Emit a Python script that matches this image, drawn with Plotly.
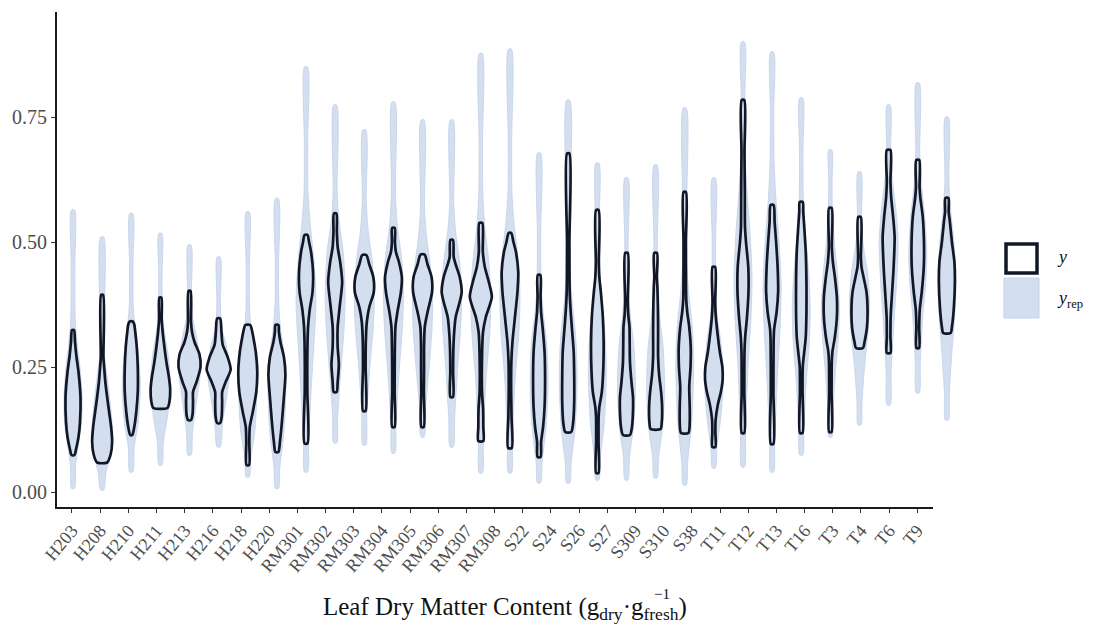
import plotly.graph_objects as go

# ---------------------------------------------------------------------------
# Data: 31 sites, each with a posterior-predictive (y_rep) density profile and
# an observed (y) density profile.  Each profile is a list of
# (LDMC value, density) pairs running from the lowest to the highest value.
# ---------------------------------------------------------------------------
groups = ["H203", "H208", "H210", "H211", "H213", "H216", "H218", "H220",
          "RM301", "RM302", "RM303", "RM304", "RM305", "RM306", "RM307", "RM308",
          "S22", "S24", "S26", "S27", "S309", "S310", "S38",
          "T11", "T12", "T13", "T16", "T3", "T4", "T6", "T9"]

yrep_profiles = [
    [(0.007, 1.5), (0.05, 2.5), (0.09, 5), (0.14, 8.5), (0.19, 9), (0.25, 7), (0.30, 4), (0.35, 2.2), (0.45, 1.8), (0.564, 1.5)],
    [(0.004, 1.5), (0.04, 4), (0.08, 9), (0.13, 10), (0.18, 8), (0.23, 5), (0.27, 2.5), (0.32, 1.8), (0.51, 1.5)],
    [(0.04, 1.5), (0.09, 3), (0.14, 7), (0.21, 9), (0.28, 7), (0.33, 4), (0.37, 2), (0.45, 1.7), (0.557, 1.5)],
    [(0.054, 1.5), (0.10, 3), (0.15, 7), (0.21, 10), (0.27, 8), (0.32, 4), (0.36, 2), (0.44, 1.7), (0.517, 1.5)],
    [(0.074, 1.5), (0.12, 3), (0.18, 7), (0.25, 11), (0.31, 7), (0.35, 3), (0.40, 2), (0.494, 1.5)],
    [(0.09, 1.5), (0.14, 4), (0.19, 8), (0.24, 11), (0.29, 8), (0.33, 3), (0.38, 1.8), (0.47, 1.5)],
    [(0.03, 1.5), (0.07, 3), (0.12, 7), (0.20, 9), (0.27, 7), (0.32, 3.5), (0.37, 1.8), (0.45, 1.6), (0.56, 1.5)],
    [(0.007, 1.5), (0.05, 3), (0.12, 7), (0.21, 9), (0.28, 7), (0.33, 3.5), (0.38, 1.8), (0.45, 1.6), (0.587, 1.5)],
    [(0.04, 1.5), (0.10, 2.5), (0.20, 5), (0.30, 8), (0.38, 10), (0.46, 8), (0.54, 4), (0.60, 2), (0.70, 1.7), (0.85, 1.5)],
    [(0.098, 1.5), (0.15, 2.5), (0.25, 6), (0.33, 9), (0.40, 10), (0.48, 8), (0.55, 3.5), (0.60, 2), (0.774, 1.5)],
    [(0.094, 1.5), (0.16, 2.5), (0.26, 6), (0.33, 9), (0.39, 10), (0.46, 8), (0.52, 4), (0.58, 2), (0.724, 1.5)],
    [(0.078, 1.5), (0.14, 2.5), (0.25, 6), (0.33, 9), (0.40, 10), (0.47, 8), (0.53, 4), (0.60, 2), (0.78, 1.5)],
    [(0.11, 1.5), (0.17, 3), (0.26, 7), (0.33, 9.5), (0.39, 10), (0.45, 8), (0.51, 4), (0.57, 2), (0.744, 1.5)],
    [(0.09, 1.5), (0.15, 3), (0.25, 6), (0.33, 9), (0.40, 10), (0.46, 8), (0.52, 4), (0.58, 2), (0.744, 1.5)],
    [(0.038, 1.5), (0.10, 2.5), (0.22, 5), (0.32, 9), (0.39, 10), (0.46, 8), (0.53, 4), (0.60, 2), (0.70, 1.7), (0.877, 1.5)],
    [(0.038, 1.5), (0.10, 2.5), (0.22, 5), (0.32, 9), (0.40, 10), (0.47, 8), (0.54, 4), (0.60, 2), (0.70, 1.7), (0.886, 1.5)],
    [(0.018, 1.5), (0.06, 3), (0.13, 7), (0.22, 9), (0.30, 7.5), (0.36, 4), (0.42, 2), (0.52, 1.7), (0.678, 1.5)],
    [(0.018, 1.5), (0.06, 3), (0.13, 7), (0.23, 9), (0.31, 7.5), (0.38, 4), (0.44, 2), (0.55, 1.7), (0.784, 1.5)],
    [(0.024, 1.5), (0.07, 3), (0.14, 7), (0.24, 9), (0.32, 7.5), (0.39, 4), (0.45, 2), (0.53, 1.7), (0.658, 1.5)],
    [(0.024, 1.5), (0.07, 3), (0.13, 7), (0.21, 9), (0.29, 7.5), (0.35, 4), (0.41, 2), (0.50, 1.7), (0.628, 1.5)],
    [(0.028, 1.5), (0.07, 3), (0.13, 7), (0.21, 9), (0.29, 7.5), (0.35, 4), (0.41, 2), (0.50, 1.7), (0.654, 1.5)],
    [(0.014, 1.5), (0.06, 3), (0.14, 7), (0.25, 9), (0.33, 7.5), (0.40, 4), (0.46, 2), (0.56, 1.7), (0.768, 1.5)],
    [(0.048, 1.5), (0.09, 3), (0.15, 7), (0.23, 9.5), (0.30, 7), (0.35, 3.5), (0.41, 2), (0.50, 1.7), (0.628, 1.5)],
    [(0.05, 1.5), (0.12, 2.5), (0.25, 5), (0.35, 8), (0.43, 9), (0.52, 7), (0.60, 4), (0.68, 2), (0.78, 1.7), (0.90, 1.5)],
    [(0.04, 1.5), (0.10, 2.5), (0.22, 5), (0.33, 8), (0.41, 9), (0.50, 7), (0.58, 4), (0.66, 2), (0.76, 1.7), (0.88, 1.5)],
    [(0.074, 1.5), (0.13, 2.5), (0.22, 5), (0.30, 8), (0.37, 9), (0.45, 7), (0.52, 4), (0.59, 2), (0.68, 1.7), (0.788, 1.5)],
    [(0.11, 1.5), (0.16, 2.5), (0.24, 5), (0.31, 8), (0.37, 9), (0.44, 7), (0.50, 4), (0.56, 2), (0.62, 1.7), (0.684, 1.5)],
    [(0.134, 1.5), (0.18, 2.5), (0.25, 5), (0.32, 8.5), (0.38, 10), (0.44, 8), (0.49, 4), (0.54, 2), (0.64, 1.5)],
    [(0.174, 1.5), (0.24, 2.5), (0.33, 5), (0.42, 8), (0.50, 9.5), (0.57, 7), (0.63, 3.5), (0.68, 2), (0.774, 1.5)],
    [(0.198, 1.5), (0.26, 2.5), (0.35, 5), (0.42, 8), (0.48, 9), (0.55, 7), (0.62, 3.5), (0.68, 2), (0.818, 1.5)],
    [(0.144, 1.5), (0.20, 2.5), (0.28, 5), (0.36, 8), (0.43, 9), (0.50, 7), (0.56, 4), (0.62, 2), (0.75, 1.5)],
]

y_profiles = [
    [(0.074, 1.5), (0.085, 3), (0.11, 5.5), (0.14, 7), (0.19, 7.5), (0.24, 5.5), (0.27, 3.5), (0.30, 2), (0.324, 1.0)],
    [(0.059, 5), (0.075, 8.5), (0.10, 10), (0.13, 9), (0.16, 7), (0.19, 5), (0.22, 3.2), (0.25, 2), (0.27, 1.3), (0.394, 1.0)],
    [(0.114, 1), (0.13, 3), (0.16, 5), (0.20, 6.5), (0.25, 6.5), (0.29, 5.5), (0.32, 4), (0.335, 3), (0.341, 1.5)],
    [(0.168, 7), (0.18, 9), (0.205, 9.8), (0.23, 8.5), (0.26, 6), (0.29, 4), (0.32, 2.3), (0.345, 1.3), (0.389, 1.0)],
    [(0.144, 1.5), (0.155, 3), (0.18, 3.5), (0.20, 3.5), (0.22, 7), (0.25, 11), (0.275, 10), (0.30, 5), (0.32, 2.5), (0.34, 1.5), (0.402, 1.0)],
    [(0.138, 1.5), (0.15, 3), (0.18, 3.5), (0.20, 3.5), (0.22, 7), (0.245, 12), (0.27, 9), (0.295, 4), (0.32, 2.8), (0.347, 1.5)],
    [(0.054, 1.3), (0.10, 1.5), (0.13, 2), (0.16, 5), (0.20, 8.5), (0.24, 9.5), (0.28, 8), (0.31, 5.5), (0.325, 4), (0.334, 2.5)],
    [(0.08, 1.5), (0.10, 3), (0.14, 5), (0.19, 7), (0.235, 8.5), (0.27, 7), (0.30, 3.5), (0.32, 2), (0.334, 1.5)],
    [(0.097, 1.5), (0.20, 1.3), (0.25, 1.2), (0.30, 1.5), (0.33, 2), (0.365, 3.7), (0.40, 6.5), (0.44, 7), (0.48, 5), (0.50, 3), (0.514, 1.5)],
    [(0.20, 1.5), (0.22, 2.5), (0.255, 3.7), (0.29, 2.5), (0.33, 2.5), (0.37, 4.5), (0.42, 7), (0.46, 5), (0.49, 2.5), (0.52, 1.7), (0.557, 1.2)],
    [(0.162, 1.3), (0.25, 1.3), (0.30, 1.5), (0.34, 2.5), (0.37, 5), (0.40, 9.5), (0.43, 9), (0.455, 5), (0.474, 2)],
    [(0.13, 1.2), (0.20, 1.2), (0.28, 1.4), (0.33, 2), (0.36, 4), (0.40, 7.5), (0.43, 8.4), (0.46, 5.5), (0.48, 2.5), (0.50, 1.5), (0.528, 1.3)],
    [(0.13, 1.2), (0.20, 1.3), (0.25, 1.5), (0.29, 1.5), (0.33, 2.2), (0.36, 5), (0.40, 9.5), (0.43, 9), (0.455, 5), (0.475, 2)],
    [(0.19, 1.3), (0.24, 1.4), (0.28, 1.6), (0.32, 2.5), (0.35, 4), (0.38, 8), (0.40, 10), (0.43, 8), (0.455, 4), (0.47, 2), (0.504, 1.3)],
    [(0.102, 2.5), (0.13, 2.5), (0.165, 2.3), (0.20, 1.2), (0.28, 1.3), (0.32, 2.2), (0.35, 5), (0.39, 11), (0.42, 8), (0.45, 4), (0.48, 2), (0.538, 1.5)],
    [(0.088, 1.8), (0.15, 1.6), (0.20, 1.2), (0.26, 1.4), (0.30, 2.5), (0.35, 5), (0.40, 7.5), (0.44, 8.3), (0.48, 6), (0.50, 3.5), (0.518, 1.3)],
    [(0.07, 1.5), (0.10, 2), (0.13, 4), (0.17, 5.5), (0.22, 6), (0.28, 5.5), (0.33, 3.5), (0.36, 2), (0.39, 1.5), (0.434, 1.3)],
    [(0.12, 3), (0.14, 5), (0.18, 6), (0.23, 6), (0.28, 5.5), (0.32, 4), (0.36, 2.5), (0.40, 1.5), (0.50, 1.2), (0.677, 1.2)],
    [(0.038, 1.2), (0.10, 1.2), (0.15, 1.3), (0.17, 2), (0.20, 4.5), (0.25, 6), (0.30, 6.3), (0.35, 5.5), (0.40, 3.5), (0.43, 2), (0.46, 1.5), (0.564, 1.3)],
    [(0.114, 3.5), (0.13, 5.5), (0.16, 6.5), (0.19, 6.5), (0.22, 5), (0.26, 3.5), (0.30, 3.2), (0.33, 3), (0.355, 1.8), (0.38, 1.3), (0.478, 1.3)],
    [(0.126, 5), (0.14, 6.2), (0.17, 6.5), (0.20, 5.5), (0.235, 3.5), (0.27, 2.5), (0.32, 2.5), (0.37, 2.3), (0.41, 1.8), (0.43, 1.3), (0.478, 1.4)],
    [(0.118, 3.7), (0.14, 5), (0.17, 5), (0.21, 4.5), (0.25, 5.8), (0.29, 6), (0.33, 4.5), (0.36, 2.5), (0.385, 1.5), (0.50, 1.2), (0.60, 1.2)],
    [(0.09, 1.5), (0.12, 1.5), (0.145, 1.8), (0.175, 4), (0.20, 7), (0.225, 8.8), (0.25, 8.5), (0.28, 6), (0.32, 3.5), (0.355, 1.8), (0.38, 1.3), (0.45, 1.3)],
    [(0.118, 1.3), (0.20, 1.3), (0.28, 1.5), (0.31, 2.2), (0.35, 4), (0.40, 5.5), (0.45, 5.3), (0.50, 3), (0.53, 2), (0.60, 1.8), (0.68, 1.5), (0.784, 1.3)],
    [(0.096, 1.3), (0.20, 1.3), (0.30, 1.5), (0.325, 2), (0.36, 4.5), (0.40, 6), (0.45, 5.5), (0.50, 4), (0.54, 2.5), (0.574, 1.5)],
    [(0.118, 1.3), (0.20, 1.3), (0.25, 1.5), (0.28, 3), (0.31, 4.5), (0.36, 5.2), (0.42, 5.2), (0.48, 4.5), (0.53, 3), (0.56, 2), (0.58, 1.5)],
    [(0.12, 1.2), (0.20, 1.2), (0.26, 1.4), (0.28, 2), (0.31, 4.5), (0.35, 6.5), (0.39, 6.5), (0.43, 4.5), (0.46, 2.5), (0.49, 1.5), (0.568, 1.3)],
    [(0.288, 3.5), (0.30, 5), (0.33, 7.5), (0.37, 8), (0.40, 7), (0.43, 4), (0.45, 2), (0.47, 1.4), (0.55, 1.3)],
    [(0.278, 1.8), (0.31, 1.8), (0.35, 2), (0.40, 3.5), (0.45, 5), (0.51, 6), (0.55, 4.5), (0.59, 2.5), (0.62, 1.8), (0.684, 1.8)],
    [(0.288, 1.3), (0.33, 1.4), (0.365, 2), (0.40, 4), (0.45, 6), (0.50, 6.2), (0.55, 5), (0.59, 2.5), (0.61, 1.8), (0.664, 1.5)],
    [(0.318, 3.7), (0.33, 5), (0.37, 7), (0.42, 8), (0.46, 7.5), (0.50, 5), (0.54, 3), (0.56, 1.8), (0.588, 1.5)],
]

y_ticks = [0.00, 0.25, 0.50, 0.75]
y_tick_text = ["0.00", "0.25", "0.50", "0.75"]

# ---------------------------------------------------------------------------
# Layout constants (pixels)
# ---------------------------------------------------------------------------
W, H = 1103, 629
ML, MR, MT, MB = 57, 103, 12, 122
PW, PH = W - ML - MR, H - MT - MB
DENS_TO_X = 1 / 29.13          # density units -> category units
SERIF = "Liberation Serif, Times New Roman, serif"

Y_FILL = "#d3deef"
Y_EDGE = "#c3d0e8"
OBS_LINE = "#121726"


def px_x(px):
    return (px - ML) / PW


def px_y(py):
    return (H - MB - py) / PH


def violin_path(center, profile):
    vals = [p[0] for p in profile]
    half = [p[1] * DENS_TO_X for p in profile]
    xs = [center + h for h in half] + [center - h for h in reversed(half)] + [center + half[0]]
    ys = vals + vals[::-1] + [vals[0]]
    return xs, ys


fig = go.Figure()

# category axis carrying the site labels
fig.add_trace(go.Scatter(
    x=list(range(len(groups))), y=[None] * len(groups), xaxis="x", yaxis="y",
    mode="markers", hoverinfo="skip", showlegend=False))

# replicated-data violins underneath
for i, prof in enumerate(yrep_profiles):
    xs, ys = violin_path(i, prof)
    fig.add_trace(go.Scatter(
        x=xs, y=ys, xaxis="x2", yaxis="y", mode="lines", fill="toself",
        fillcolor=Y_FILL, line=dict(color=Y_EDGE, width=0.8, shape="spline", smoothing=0.8),
        hoverinfo="skip", showlegend=False))

# observed-data violins on top
for i, prof in enumerate(y_profiles):
    xs, ys = violin_path(i, prof)
    fig.add_trace(go.Scatter(
        x=xs, y=ys, xaxis="x2", yaxis="y", mode="lines",
        line=dict(color=OBS_LINE, width=2.7, shape="spline", smoothing=0.7),
        hoverinfo="skip", showlegend=False))

fig.update_layout(
    width=W, height=H,
    margin=dict(l=ML, r=MR, t=MT, b=MB, pad=0),
    paper_bgcolor="white", plot_bgcolor="white",
    showlegend=False,
    xaxis=dict(
        domain=[0, px_x(933)], range=[-0.532, 30.56], anchor="y",
        tickmode="array", tickvals=list(range(len(groups))), ticktext=groups,
        tickangle=-50, tickfont=dict(family=SERIF, size=18, color="#4d4d4d"),
        showline=True, linecolor="#1a1a1a", linewidth=1.8,
        ticks="outside", ticklen=4, tickcolor="#333333", tickwidth=1,
        showgrid=False, zeroline=False, fixedrange=True,
    ),
    xaxis2=dict(
        domain=[0, 1], range=[(ML - 73) / 29.13, (ML + PW - 73) / 29.13],
        anchor="y", visible=False, showgrid=False, zeroline=False,
    ),
    yaxis=dict(
        domain=[0, 1], range=[-0.03, 0.96], anchor="x",
        tickmode="array", tickvals=y_ticks, ticktext=y_tick_text,
        tickfont=dict(family=SERIF, size=20, color="#4d4d4d"),
        showline=True, linecolor="#1a1a1a", linewidth=1.8,
        ticks="outside", ticklen=4, tickcolor="#333333", tickwidth=1,
        showgrid=False, zeroline=False,
    ),
)

# axis title with stacked sub/superscript on "g fresh"
fig.add_annotation(
    xref="paper", yref="paper", x=px_x(321), y=px_y(608),
    xanchor="left", yanchor="middle", showarrow=False,
    text="Leaf Dry Matter Content (g<sub>dry</sub>·g<sub>fresh</sub>)",
    font=dict(family=SERIF, size=25, color="#111111"))
fig.add_annotation(
    xref="paper", yref="paper", x=px_x(662), y=px_y(594),
    xanchor="center", yanchor="middle", showarrow=False,
    text="−1", font=dict(family=SERIF, size=15, color="#111111"))

# legend keys
fig.add_shape(type="rect", xref="paper", yref="paper",
              x0=px_x(1006), x1=px_x(1037), y0=px_y(273), y1=px_y(244),
              line=dict(color=OBS_LINE, width=3.5), fillcolor="white")
fig.add_shape(type="rect", xref="paper", yref="paper",
              x0=px_x(1004), x1=px_x(1039), y0=px_y(318), y1=px_y(278),
              line=dict(color=Y_EDGE, width=1), fillcolor=Y_FILL)
fig.add_annotation(
    xref="paper", yref="paper", x=px_x(1055), y=px_y(257),
    xanchor="left", yanchor="middle", showarrow=False,
    text="<i>y</i>", font=dict(family=SERIF, size=18, color="#111111"))
fig.add_annotation(
    xref="paper", yref="paper", x=px_x(1055), y=px_y(299),
    xanchor="left", yanchor="middle", showarrow=False,
    text="<i>y</i><sub>rep</sub>", font=dict(family=SERIF, size=18, color="#111111"))

fig.write_html("out.html")
